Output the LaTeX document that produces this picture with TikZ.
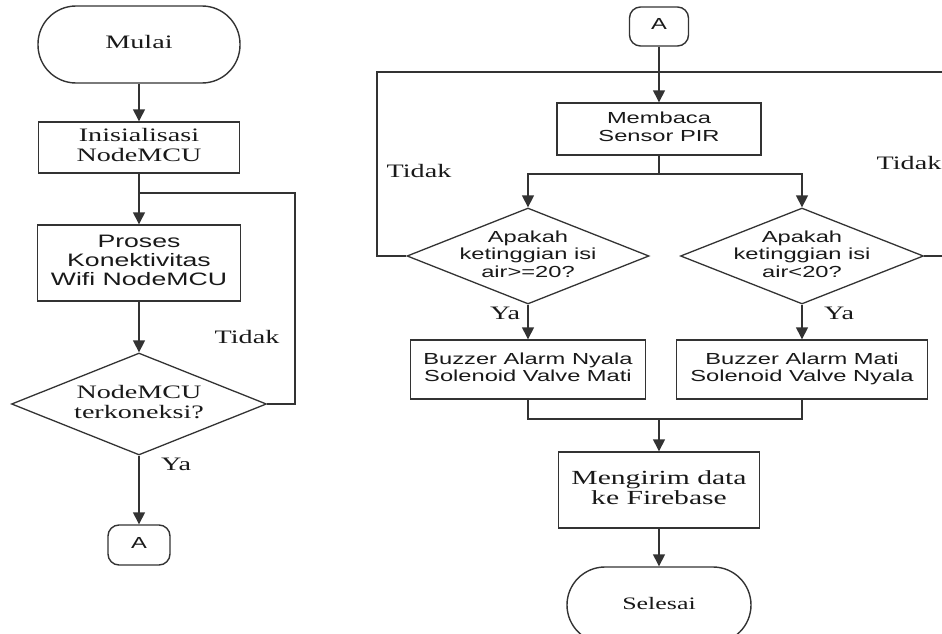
\documentclass[tikz,border=0pt]{standalone}
\usepackage{fontspec}
\usepackage{graphicx}
\setmainfont{Liberation Serif}
\newfontfamily\arialf{Liberation Sans}
\usetikzlibrary{arrows.meta,shapes.geometric}
\newcommand{\wide}[1]{\scalebox{1.48}[1]{\begin{tabular}{@{}c@{}}#1\end{tabular}}}
\begin{document}
\begin{tikzpicture}[x=1pt,y=-1pt,
  line/.style={draw=black!80, line width=1.4pt},
  arr/.style={line, -{Triangle[width=12pt,length=12pt]}},
  box/.style={draw=black!80, line width=1.4pt, rectangle, inner sep=0pt},
  term/.style={box, rounded corners=38pt},
  conn/.style={box, rounded corners=11pt},
  dia/.style={draw=black!80, line width=1.3pt, diamond, inner sep=0pt},
  serif/.style={font=\fontsize{19}{20}\selectfont, text=black!90, inner sep=0pt},
  sans/.style={font=\arialf\fontsize{16}{17.5}\selectfont, text=black!90, inner sep=0pt},
  bigsans/.style={font=\arialf\fontsize{18}{19}\selectfont, text=black!90, inner sep=0pt}]
\useasboundingbox (0,0) rectangle (942,634);
\clip (0,0) rectangle (942,634);
\fill[white] (0,0) rectangle (942,634);

% ---------- left column ----------
\node[term, minimum width=202pt, minimum height=77pt, serif] (mulai) at (139,44.5) {\wide{Mulai}};
\node[box, minimum width=201pt, minimum height=51pt, serif] (init) at (139,147.5) {\wide{Inisialisasi\\NodeMCU}};
\node[box, minimum width=203pt, minimum height=76pt, bigsans] (proses) at (139,263) {\wide{Proses\\Konektivitas\\Wifi NodeMCU}};
\node[dia, minimum width=255pt, minimum height=102pt] (cek) at (139,404) {};
\node[serif] (cekt) at (139,404) {\wide{NodeMCU\\terkoneksi?}};
\node[conn, minimum width=62pt, minimum height=40pt, sans] (aout) at (139,545) {\wide{A}};
\coordinate (jl) at (139,193);
\coordinate (lr) at (295,404);
\node[serif] (tidak1) at (247,339) {\wide{Tidak}};
\node[serif] (ya1) at (176,466) {\wide{Ya}};

\draw[arr] (mulai.south) -- (init.north);
\draw[arr] (init.south) -- (proses.north);
\draw[arr] (proses.south) -- (cek.north);
\draw[line] (cek.east) -- (lr) |- (jl);
\draw[arr] (cek.south) -- (aout.north);

% ---------- right column ----------
\node[conn, minimum width=59pt, minimum height=39pt, sans] (ain) at (659,26.5) {\wide{A}};
\node[box, minimum width=204pt, minimum height=52pt, sans] (pir) at (659,129) {\wide{Membaca\\Sensor PIR}};
\coordinate (split) at (659,174);
\node[dia, minimum width=242pt, minimum height=96pt] (d1) at (528,256) {};
\node[sans] (d1t) at (528,256) {\wide{Apakah\\ketinggian isi\\air>=20?}};
\node[dia, minimum width=243pt, minimum height=96pt] (d2) at (802,256) {};
\node[sans] (d2t) at (802,256) {\wide{Apakah\\ketinggian isi\\air<20?}};
\node[box, minimum width=235pt, minimum height=59pt, sans] (b1) at (528,369.5) {\wide{Buzzer Alarm Nyala\\Solenoid Valve Mati}};
\node[box, minimum width=251pt, minimum height=59pt, sans] (b2) at (802,369.5) {\wide{Buzzer Alarm Mati\\Solenoid Valve Nyala}};
\coordinate (merge) at (659,419);
\node[box, minimum width=201pt, minimum height=76pt, font=\fontsize{20}{20}\selectfont, text=black!90] (kirim) at (659,490) {\wide{Mengirim data\\ke Firebase}};
\node[term, minimum width=184pt, minimum height=76pt, font=\fontsize{17.5}{20}\selectfont, text=black!90] (selesai) at (659,605) {\wide{Selesai}};
\coordinate (lloop) at (377,256);
\coordinate (rloop) at (975,256);
\coordinate (ltop) at (377,72);
\coordinate (rtop) at (975,72);
\node[serif] (tidak2) at (419,173) {\wide{Tidak}};
\node[serif] (tidak3) at (909,165) {\wide{Tidak}};
\node[serif] (ya2) at (505,315) {\wide{Ya}};
\node[serif] (ya3) at (839,315) {\wide{Ya}};

\draw[arr] (ain.south) -- (pir.north);
\draw[line] (pir.south) -- (split);
\draw[arr] (split) -| (d1.north);
\draw[arr] (split) -| (d2.north);
\draw[line] (d1.west) -- (lloop) -- (ltop) -- (rtop) -- (rloop) -- (d2.east);
\draw[arr] (d1.south) -- (b1.north);
\draw[arr] (d2.south) -- (b2.north);
\draw[line] (b1.south) |- (merge) -| (b2.south);
\draw[arr] (merge) -- (kirim.north);
\draw[arr] (kirim.south) -- (selesai.north);
\end{tikzpicture}
\end{document}
